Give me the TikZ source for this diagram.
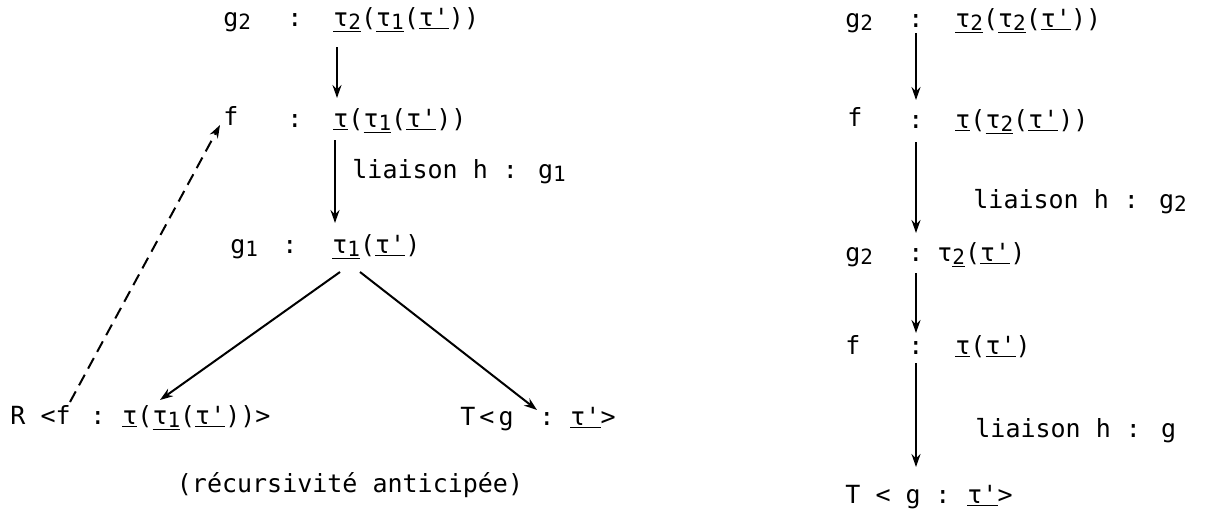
\documentclass[tikz,border=0pt]{standalone}
\usepackage{fontspec}
\newfontfamily\tyfont{DejaVu Sans Mono}
\usetikzlibrary{arrows.meta,positioning}
\newcommand{\sbx}[1]{\raisebox{-1.5pt}{\fontsize{10.5}{12}\selectfont #1}}
\newcommand{\ulx}[1]{\underline{#1}}
\tikzset{
  txt/.style={font=\fontsize{12.5}{15}\tyfont,inner sep=0pt,anchor=base west},
  cln/.style={font=\fontsize{12.5}{15}\tyfont,inner sep=0pt,anchor=base},
  arr/.style={-{Stealth[length=6.5pt,width=4.5pt]},line width=1pt},
  darr/.style={arr,dash pattern=on 6pt off 3.5pt},
}

\begin{document}
\begin{tikzpicture}[x=0.5pt,y=-0.5pt]
  \useasboundingbox (0,0) rectangle (1209,509);
  % left: anticipated recursion
  \node[txt] (l1n) at (223,26) {g\sbx{2}};
  \node[cln] (l1c) at (295,26) {:};
  \node[txt] (l1t) at (333,26) {\ulx{τ\sbx{2}}(\ulx{τ\sbx{1}}(\ulx{τ'}))};
  \node[txt] (l2n) at (223,125) {f};
  \node[cln] (l2c) at (295,127) {:};
  \node[txt] (l2t) at (333,127) {\ulx{τ}(\ulx{τ\sbx{1}}(\ulx{τ'}))};
  \node[txt] (l3n) at (230,253) {g\sbx{1}};
  \node[cln] (l3c) at (290,253) {:};
  \node[txt] (l3t) at (332,253) {\ulx{τ\sbx{1}}(\ulx{τ'})};
  \node[txt] (lh) at (352,178) {liaison h : g\sbx{1}};
  \node[txt] (bRn) at (10,424) {R <f};
  \node[cln] (bRc) at (98,424) {:};
  \node[txt] (bRt) at (122,424) {\ulx{τ}(\ulx{τ\sbx{1}}(\ulx{τ'}))>};
  \node[txt] (bTn) at (460,425) {T\kern2pt<\kern2pt g};
  \node[cln] (bTc) at (547,425) {:};
  \node[txt] (bTt) at (570,425) {\ulx{τ'}>};
  \node[txt,anchor=base] (rec) at (350,492) {(récursivité anticipée)};
  \draw[arr] ([xshift=2pt,yshift=-10.5pt]l1t.base west) -- ([xshift=2pt,yshift=14.5pt]l2t.base west);
  \draw[arr] ([xshift=1pt,yshift=-6.5pt]l2t.base west) -- ([xshift=1.5pt,yshift=15pt]l3t.base west);
  \draw[arr] ([xshift=4pt,yshift=-9.5pt]l3t.base west) -- ([xshift=19pt,yshift=12pt]bRt.base west);
  \draw[arr] ([xshift=14pt,yshift=-9.5pt]l3t.base west) -- ([xshift=-5pt,yshift=7.5pt]bTc.base);
  \draw[darr] ([xshift=30pt,yshift=11pt]bRn.base west) -- ([xshift=-1.5pt]l2n.base west);

  % right: plain unfolding
  \node[txt] (r1n) at (845,27) {g\sbx{2}};
  \node[cln] (r1c) at (916,27) {:};
  \node[txt] (r1t) at (955,27) {\ulx{τ\sbx{2}}(\ulx{τ\sbx{2}}(\ulx{τ'}))};
  \node[txt] (r2n) at (847,126) {f};
  \node[cln] (r2c) at (916,128) {:};
  \node[txt] (r2t) at (955,128) {\ulx{τ}(\ulx{τ\sbx{2}}(\ulx{τ'}))};
  \node[txt] (r3n) at (845,261) {g\sbx{2}};
  \node[cln] (r3c) at (916,261) {:};
  \node[txt] (r3t) at (937,261) {τ\ulx{\sbx{2}}(\ulx{τ'})};
  \node[txt] (r4n) at (845,354) {f};
  \node[cln] (r4c) at (916,354) {:};
  \node[txt] (r4t) at (955,354) {\ulx{τ}(\ulx{τ'})};
  \node[txt] (r5n) at (845,503) {T < g};
  \node[cln] (r5c) at (943,503) {:};
  \node[txt] (r5t) at (967,503) {\ulx{τ'}>};
  \node[txt] (rh1) at (973,208) {liaison h : g\sbx{2}};
  \node[txt] (rh2) at (975,437) {liaison h : g};
  \draw[arr] ([yshift=-3pt]r1c.base) -- ([yshift=14pt]r2c.base);
  \draw[arr] ([yshift=-7pt]r2c.base) -- ([yshift=14pt]r3c.base);
  \draw[arr] ([yshift=-6pt]r3c.base) -- ([yshift=10.5pt]r4c.base);
  \draw[arr] ([yshift=-4.5pt]r4c.base) -- ([xshift=35.5pt,yshift=18pt]r5n.base west);
\end{tikzpicture}
\end{document}
